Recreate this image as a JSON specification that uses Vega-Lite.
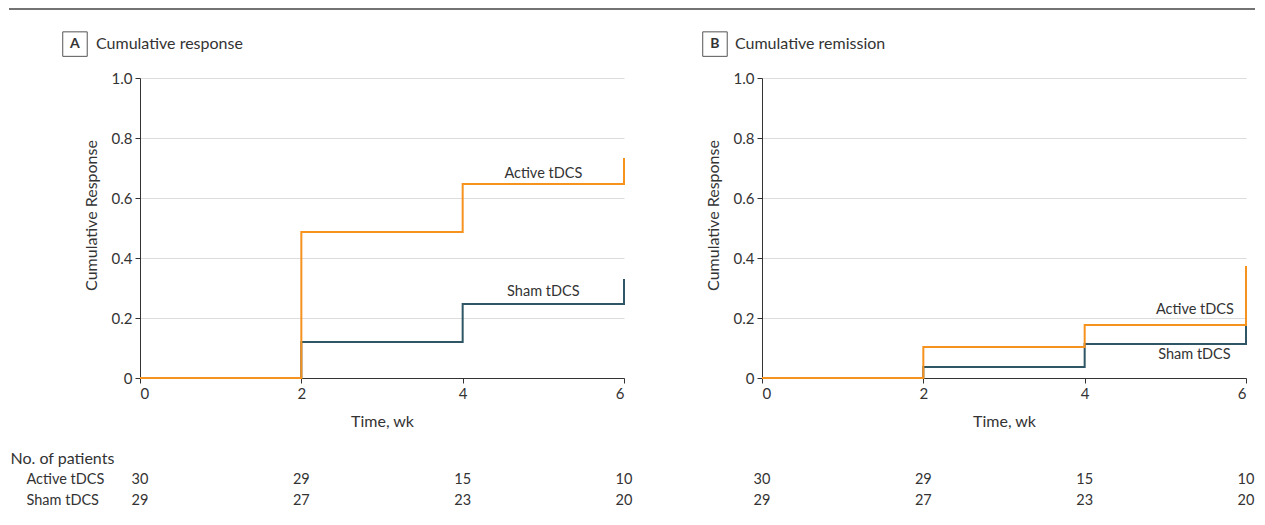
{
  "$schema": "https://vega.github.io/schema/vega-lite/v6.json",
  "background": "white",
  "padding": {"left": 8, "top": 8, "right": 5, "bottom": 5},
  "autosize": {"type": "pad"},
  "datasets": {
    "resp": [
      {"group": "Active tDCS", "time": 0, "value": 0},
      {"group": "Active tDCS", "time": 2, "value": 0.487},
      {"group": "Active tDCS", "time": 4, "value": 0.647},
      {"group": "Active tDCS", "time": 6, "value": 0.733},
      {"group": "Sham tDCS", "time": 0, "value": 0},
      {"group": "Sham tDCS", "time": 2, "value": 0.12},
      {"group": "Sham tDCS", "time": 4, "value": 0.247},
      {"group": "Sham tDCS", "time": 6, "value": 0.33}
    ],
    "rem": [
      {"group": "Active tDCS", "time": 0, "value": 0},
      {"group": "Active tDCS", "time": 2, "value": 0.103},
      {"group": "Active tDCS", "time": 4, "value": 0.177},
      {"group": "Active tDCS", "time": 6, "value": 0.373},
      {"group": "Sham tDCS", "time": 0, "value": 0},
      {"group": "Sham tDCS", "time": 2, "value": 0.037},
      {"group": "Sham tDCS", "time": 4, "value": 0.113},
      {"group": "Sham tDCS", "time": 6, "value": 0.173}
    ],
    "risk": [
      {"group": "Active tDCS", "time": 0, "n": 30},
      {"group": "Active tDCS", "time": 2, "n": 29},
      {"group": "Active tDCS", "time": 4, "n": 15},
      {"group": "Active tDCS", "time": 6, "n": 10},
      {"group": "Sham tDCS", "time": 0, "n": 29},
      {"group": "Sham tDCS", "time": 2, "n": 27},
      {"group": "Sham tDCS", "time": 4, "n": 23},
      {"group": "Sham tDCS", "time": 6, "n": 20}
    ],
    "one": [{}]
  },
  "config": {
    "font": "Lato",
    "view": {"stroke": null},
    "axis": {
      "labelFont": "Lato", "labelFontSize": 15, "labelColor": "#333",
      "titleFont": "Lato", "titleFontSize": 16, "titleFontWeight": "normal", "titleColor": "#333",
      "domainColor": "#333", "tickColor": "#333", "gridColor": "#dcdcdc"
    },
    "text": {"font": "Lato", "fontSize": 14.5, "fill": "#333"}
  },
  "columns": 1,
  "align": "none",
  "spacing": 19,
  "concat": [
    {
      "width": 1115, "height": 1,
      "data": {"name": "one"},
      "mark": {"type": "rule", "color": "#444", "strokeWidth": 1.5},
      "encoding": {
        "x": {"datum": -0.1175, "scale": {"domain": [0, 1], "nice": false, "zero": false}, "axis": null},
        "x2": {"datum": 1},
        "y": {"datum": 0, "scale": {"domain": [0, 1]}, "axis": null}
      }
    },
    {
      "spacing": 67,
      "hconcat": [
        {
          "spacing": 21,
          "vconcat": [
            {
              "width": 484, "height": 300,
              "encoding": {
                "x": {"type": "quantitative", "scale": {"domain": [0, 6], "nice": false}, "axis": {"values": [0, 2, 4, 6], "grid": false, "tickSize": 5, "title": "Time, wk", "labelPadding": 3, "titlePadding": 12}},
                "y": {"type": "quantitative", "scale": {"domain": [0, 1], "nice": false}, "axis": {"values": [0, 0.2, 0.4, 0.6, 0.8, 1.0], "grid": true, "tickSize": 5, "title": "Cumulative Response", "titleY": 137, "labelPadding": 3, "titlePadding": 12, "labelExpr": "datum.value == 0 ? '0' : format(datum.value, '.1f')"}}
              },
              "layer": [
                {
                  "data": {"name": "resp"},
                  "transform": [{"filter": "datum.group == 'Sham tDCS'"}],
                  "mark": {"type": "line", "interpolate": "step-after", "strokeWidth": 2, "color": "#2F5664"},
                  "encoding": {"x": {"field": "time"}, "y": {"field": "value"}, "order": {"field": "time"}}
                },
                {
                  "data": {"name": "resp"},
                  "transform": [{"filter": "datum.group == 'Active tDCS'"}],
                  "mark": {"type": "line", "interpolate": "step-after", "strokeWidth": 2, "color": "#F6921E"},
                  "encoding": {"x": {"field": "time"}, "y": {"field": "value"}, "order": {"field": "time"}}
                },
                {
                  "data": {"name": "one"},
                  "mark": {"type": "text", "align": "center", "baseline": "middle"},
                  "encoding": {"x": {"datum": 5.0}, "y": {"datum": 0.68}, "text": {"value": "Active tDCS"}}
                },
                {
                  "data": {"name": "one"},
                  "mark": {"type": "text", "align": "center", "baseline": "middle"},
                  "encoding": {"x": {"datum": 5.0}, "y": {"datum": 0.287}, "text": {"value": "Sham tDCS"}}
                },
                {
                  "data": {"name": "one"},
                  "mark": {"type": "point", "shape": "square", "size": 600, "filled": false, "stroke": "#555", "strokeWidth": 1, "opacity": 1},
                  "encoding": {"x": {"datum": -0.806}, "y": {"datum": 1.113}}
                },
                {
                  "data": {"name": "one"},
                  "mark": {"type": "text", "align": "center", "baseline": "middle", "fontWeight": "bold", "fontSize": 14},
                  "encoding": {"x": {"datum": -0.806}, "y": {"datum": 1.113}, "text": {"value": "A"}}
                },
                {
                  "data": {"name": "one"},
                  "mark": {"type": "text", "align": "left", "baseline": "middle", "fontSize": 16},
                  "encoding": {"x": {"datum": -0.545}, "y": {"datum": 1.113}, "text": {"value": "Cumulative response"}}
                }
              ]
            },
            {
              "width": 484, "height": 42,
              "data": {"name": "risk"},
              "mark": {"type": "text", "fontSize": 14.5},
              "encoding": {
                "x": {"field": "time", "type": "quantitative", "scale": {"domain": [0, 6], "nice": false}, "axis": null},
                "y": {"field": "group", "type": "nominal", "sort": ["Active tDCS", "Sham tDCS"], "axis": {"title": "No. of patients", "titleAngle": 0, "titleAlign": "left", "titleBaseline": "middle", "titleX": -130, "titleY": -10.5, "labelAlign": "left", "labelPadding": 114, "labelFontSize": 14.5, "ticks": false, "domain": false}},
                "text": {"field": "n"}
              }
            }
          ]
        },
        {
          "spacing": 21,
          "vconcat": [
            {
              "width": 484, "height": 300,
              "encoding": {
                "x": {"type": "quantitative", "scale": {"domain": [0, 6], "nice": false}, "axis": {"values": [0, 2, 4, 6], "grid": false, "tickSize": 5, "title": "Time, wk", "labelPadding": 3, "titlePadding": 12}},
                "y": {"type": "quantitative", "scale": {"domain": [0, 1], "nice": false}, "axis": {"values": [0, 0.2, 0.4, 0.6, 0.8, 1.0], "grid": true, "tickSize": 5, "title": "Cumulative Response", "titleY": 137, "labelPadding": 3, "titlePadding": 12, "labelExpr": "datum.value == 0 ? '0' : format(datum.value, '.1f')"}}
              },
              "layer": [
                {
                  "data": {"name": "rem"},
                  "transform": [{"filter": "datum.group == 'Sham tDCS'"}],
                  "mark": {"type": "line", "interpolate": "step-after", "strokeWidth": 2, "color": "#2F5664"},
                  "encoding": {"x": {"field": "time"}, "y": {"field": "value"}, "order": {"field": "time"}}
                },
                {
                  "data": {"name": "rem"},
                  "transform": [{"filter": "datum.group == 'Active tDCS'"}],
                  "mark": {"type": "line", "interpolate": "step-after", "strokeWidth": 2, "color": "#F6921E"},
                  "encoding": {"x": {"field": "time"}, "y": {"field": "value"}, "order": {"field": "time"}}
                },
                {
                  "data": {"name": "one"},
                  "mark": {"type": "text", "align": "right", "baseline": "middle"},
                  "encoding": {"x": {"datum": 5.85}, "y": {"datum": 0.227}, "text": {"value": "Active tDCS"}}
                },
                {
                  "data": {"name": "one"},
                  "mark": {"type": "text", "align": "right", "baseline": "middle"},
                  "encoding": {"x": {"datum": 5.81}, "y": {"datum": 0.077}, "text": {"value": "Sham tDCS"}}
                },
                {
                  "data": {"name": "one"},
                  "mark": {"type": "point", "shape": "square", "size": 600, "filled": false, "stroke": "#555", "strokeWidth": 1, "opacity": 1},
                  "encoding": {"x": {"datum": -0.583}, "y": {"datum": 1.113}}
                },
                {
                  "data": {"name": "one"},
                  "mark": {"type": "text", "align": "center", "baseline": "middle", "fontWeight": "bold", "fontSize": 14},
                  "encoding": {"x": {"datum": -0.583}, "y": {"datum": 1.113}, "text": {"value": "B"}}
                },
                {
                  "data": {"name": "one"},
                  "mark": {"type": "text", "align": "left", "baseline": "middle", "fontSize": 16},
                  "encoding": {"x": {"datum": -0.335}, "y": {"datum": 1.113}, "text": {"value": "Cumulative remission"}}
                }
              ]
            },
            {
              "width": 484, "height": 42,
              "data": {"name": "risk"},
              "mark": {"type": "text", "fontSize": 14.5},
              "encoding": {
                "x": {"field": "time", "type": "quantitative", "scale": {"domain": [0, 6], "nice": false}, "axis": null},
                "y": {"field": "group", "type": "nominal", "sort": ["Active tDCS", "Sham tDCS"], "axis": {"title": "No. of patients", "titleOpacity": 0, "titleAngle": 0, "titleAlign": "left", "titleBaseline": "middle", "titleX": 0, "titleY": -10.5, "labels": false, "ticks": false, "domain": false}},
                "text": {"field": "n"}
              }
            }
          ]
        }
      ]
    }
  ]
}
